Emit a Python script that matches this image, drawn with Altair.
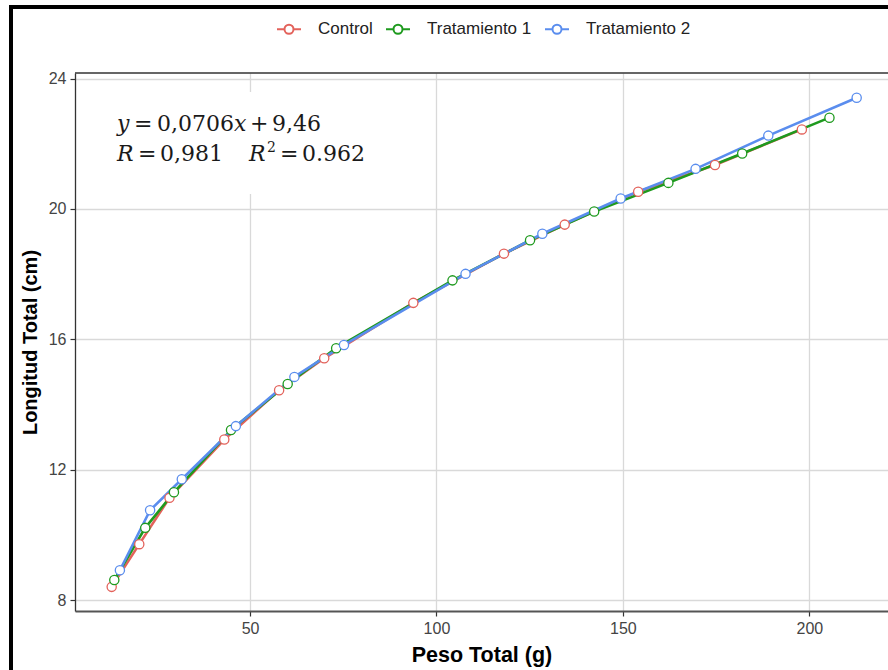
import altair as alt
import pandas as pd

# ---------------- data ----------------
series = ["Control", "Tratamiento 1", "Tratamiento 2"]
colors = ["#E3625B", "#1E9A1E", "#5A8DEE"]

control_x = [12.9, 20.3, 28.4, 43.1, 57.8, 69.9, 93.8, 118.1, 134.4, 154.1, 174.7, 198.0]
control_y = [8.41, 9.72, 11.14, 12.93, 14.44, 15.42, 17.12, 18.63, 19.52, 20.53, 21.35, 22.44]

t1_x = [13.6, 21.9, 29.6, 44.9, 60.1, 73.1, 104.3, 125.1, 142.3, 162.2, 182.0, 205.4]
t1_y = [8.62, 10.22, 11.31, 13.22, 14.63, 15.73, 17.81, 19.04, 19.92, 20.80, 21.70, 22.80]

t2_x = [15.1, 23.2, 31.7, 46.2, 61.9, 75.2, 107.8, 128.4, 149.4, 169.5, 189.0, 212.7]
t2_y = [8.92, 10.76, 11.71, 13.34, 14.85, 15.83, 18.01, 19.24, 20.32, 21.23, 22.25, 23.41]

x_ticks = [50, 100, 150, 200]
y_ticks = [8, 12, 16, 20, 24]

rows = []
for name, xs, ys in zip(series, [control_x, t1_x, t2_x], [control_y, t1_y, t2_y]):
    for xv, yv in zip(xs, ys):
        rows.append({"serie": name, "peso": xv, "longitud": yv})
df = pd.DataFrame(rows)

W, H = 813, 538
FONT = "Liberation Sans"
SERIF = "DejaVu Serif"

x_scale = alt.Scale(domain=[3.06, 221.1], nice=False, zero=False)
y_scale = alt.Scale(domain=[7.67, 24.17], nice=False, zero=False)

legend_path = ("M-1,0L-0.375,0M0.375,0L1,0"
               "M0.375,0A0.375,0.375,0,1,1,-0.375,0A0.375,0.375,0,1,1,0.375,0Z")
legend = alt.Legend(
    title=None, orient="none", legendX=201, legendY=-57, direction="horizontal",
    symbolType=legend_path, symbolSize=576, symbolStrokeWidth=2,
    symbolFillColor="white", labelOffset=16, columnPadding=9,
    labelFont=FONT, labelFontSize=17, labelColor="#222222", padding=0,
)
color = alt.Color("serie:N", scale=alt.Scale(domain=series, range=colors), legend=legend)

base = alt.Chart(df).encode(
    x=alt.X("peso:Q", scale=x_scale,
            axis=alt.Axis(values=x_ticks, title="Peso Total (g)", titleFontSize=21.5,
                          titlePadding=8, domainColor="#555555", domainWidth=2.2)),
    y=alt.Y("longitud:Q", scale=y_scale,
            axis=alt.Axis(values=y_ticks, title="Longitud Total (cm)", titleFontSize=20,
                          titlePadding=8, domainColor="#333333", domainWidth=1.3)),
    color=color,
)

lines = base.mark_line(strokeWidth=2.6)
points = base.mark_point(shape="circle", filled=False, fill="white", size=85,
                         strokeWidth=1.3, opacity=1)

one = pd.DataFrame({"k": [0]})

# white box behind equation
box = alt.Chart(one).mark_rect(fill="white").encode(
    x=alt.value(25), x2=alt.value(315), y=alt.value(19), y2=alt.value(121))

# top panel border
top_rule = alt.Chart(one).mark_rule(color="#333333", strokeWidth=1.5).encode(
    x=alt.value(0), x2=alt.value(W), y=alt.value(0))

# outer image frame
frame = alt.Chart(one).mark_rect(fill="transparent", stroke="black", strokeWidth=4).encode(
    x=alt.value(-64), x2=alt.value(900), y=alt.value(-66), y2=alt.value(700))


def piece(text, x, y, italic=False, size=22):
    kw = dict(text=text, font=SERIF, fontSize=size, align="left",
              baseline="alphabetic", color="#1a1a1a")
    if italic:
        kw["fontStyle"] = "italic"
    return alt.Chart(one).mark_text(**kw).encode(x=alt.value(x), y=alt.value(y))


OX, OY = 75, 73
L1, L2 = 131 - OY, 161 - OY
eq = [
    piece("y", 117 - OX, L1, True),
    piece("=", 134 - OX, L1),
    piece("0,0706", 157 - OX, L1),
    piece("x", 234 - OX, L1, True),
    piece("+", 250 - OX, L1),
    piece("9,46", 272 - OX, L1),
    piece("R", 117 - OX, L2, True),
    piece("=", 138 - OX, L2),
    piece("0,981", 160 - OX, L2),
    piece("R", 249 - OX, L2, True),
    piece("2", 267 - OX, L2 - 9, size=14),
    piece("=", 280 - OX, L2),
    piece("0.962", 302 - OX, L2),
]

chart = alt.layer(box, lines, points, top_rule, frame, *eq).properties(
    width=W, height=H,
    autosize=alt.AutoSizeParams(type="none"),
    padding={"left": OX, "top": OY, "right": 0, "bottom": 670 - OY - H},
    background="white",
).configure_view(strokeWidth=0).configure_axis(
    grid=True, gridColor="#D9D9D9", gridWidth=1.3,
    tickColor="#333333", tickSize=5, tickWidth=1.2,
    labelFont=FONT, labelFontSize=16, labelColor="#444444", labelPadding=4,
    titleFont=FONT, titleFontWeight="bold", titleColor="#000000",
)

chart.save("out.html", embed_options={"renderer": "svg", "actions": False})
